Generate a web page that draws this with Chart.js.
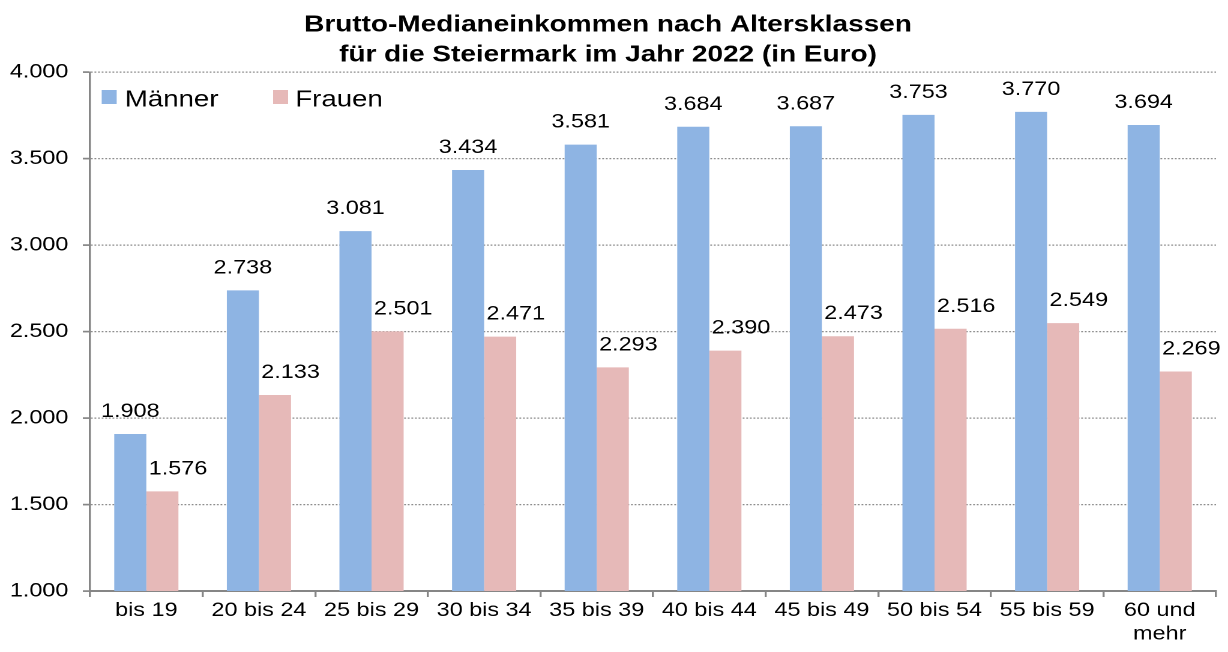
<!DOCTYPE html>
<html>
<head>
<meta charset="utf-8">
<title>Brutto-Medianeinkommen Steiermark 2022</title>
<script src="https://cdn.jsdelivr.net/npm/chart.js@4"></script>
<style>
  html, body { margin: 0; padding: 0; background: #fff; overflow: hidden; }
  /* the original picture is stretched a bit horizontally, so we draw narrower and stretch */
  #wrap { width: 1023px; height: 652px; transform: scaleX(1.2004); transform-origin: 0 0; }
</style>
</head>
<body>
<div id="wrap"><canvas id="myChart"></canvas></div>
<script>
// Data
const categories = ['bis 19', '20 bis 24', '25 bis 29', '30 bis 34', '35 bis 39',
                    '40 bis 44', '45 bis 49', '50 bis 54', '55 bis 59', ['60 und', 'mehr']];
const maenner = [1908, 2738, 3081, 3434, 3581, 3684, 3687, 3753, 3770, 3694];
const frauen  = [1576, 2133, 2501, 2471, 2293, 2390, 2473, 2516, 2549, 2269];
const yMin = 1000;
const yMax = 4000;
const yStep = 500;

const fontFamily = '"Liberation Sans", Arial, sans-serif';
Chart.defaults.font.family = fontFamily;
Chart.defaults.color = '#000';

// German thousands separator: 4000 -> 4.000
function fmt(v) {
    return String(v).replace(/\B(?=(\d{3})+(?!\d))/g, '.');
}

// value labels above the bars
const barLabels = {
    id: 'barLabels',
    afterDatasetsDraw(chart) {
        const ctx = chart.ctx;
        ctx.save();
        ctx.font = '19.5px ' + fontFamily;
        ctx.fillStyle = '#000';
        ctx.textAlign = 'center';
        ctx.textBaseline = 'alphabetic';
        chart.data.datasets.forEach((ds, i) => {
            const shift = i === 1 ? 13 : 0;
            chart.getDatasetMeta(i).data.forEach((bar, j) => {
                ctx.fillText(fmt(ds.data[j]), bar.x + shift, bar.y - 17);
            });
        });
        ctx.restore();
    }
};

// legend sits inside the plot, top left
const legendInside = {
    id: 'legendInside',
    afterDraw(chart) {
        const ctx = chart.ctx;
        const pos = [[84.7, 104], [227.5, 246]];
        ctx.save();
        ctx.font = '23px ' + fontFamily;
        ctx.textBaseline = 'alphabetic';
        chart.data.datasets.forEach((ds, i) => {
            ctx.fillStyle = ds.backgroundColor;
            ctx.fillRect(pos[i][0], 90, 12.5, 14);
            ctx.fillStyle = '#000';
            ctx.fillText(ds.label, pos[i][1], 106.5);
        });
        ctx.restore();
    }
};

const myChart = document.getElementById('myChart');

let barChart = new Chart(myChart, {
    type: 'bar',
    data: {
        labels: categories,
        datasets: [
            {
                label: 'Männer',
                data: maenner,
                backgroundColor: '#8EB4E3',
                categoryPercentage: 0.57,
                barPercentage: 1.0
            },
            {
                label: 'Frauen',
                data: frauen,
                backgroundColor: '#E6B9B8',
                categoryPercentage: 0.57,
                barPercentage: 1.0
            }
        ]
    },
    options: {
        responsive: true,
        maintainAspectRatio: false,
        devicePixelRatio: 2,
        animation: false,
        layout: { padding: { top: 0, right: 10, left: 0, bottom: 0 } },
        plugins: {
            legend: { display: false },
            tooltip: { enabled: false },
            title: {
                display: true,
                text: ['Brutto-Medianeinkommen nach Altersklassen',
                       'für die Steiermark im Jahr 2022 (in Euro)'],
                color: '#000',
                font: { size: 23.3, weight: 'bold', lineHeight: 1.29 },
                padding: { top: 10, bottom: 2 }
            }
        },
        scales: {
            x: {
                grid: {
                    offset: true,
                    drawOnChartArea: false,
                    drawTicks: true,
                    tickLength: 6,
                    color: '#868686',
                    lineWidth: 1.7
                },
                border: { color: '#868686', width: 2 },
                ticks: {
                    color: '#000',
                    font: { size: 19.5, lineHeight: 1.2 },
                    padding: 2,
                    maxRotation: 0,
                    autoSkip: false
                },
                afterFit(scale) { scale.height = 61; }
            },
            y: {
                min: yMin,
                max: yMax,
                ticks: {
                    stepSize: yStep,
                    color: '#000',
                    font: { size: 19.5 },
                    padding: 12,
                    callback: value => fmt(value)
                },
                grid: {
                    color: '#8c8c8c',
                    lineWidth: 1.2,
                    tickLength: 6,
                    tickColor: '#868686',
                    tickWidth: 1.7,
                    tickBorderDash: []
                },
                border: { color: '#868686', width: 1.7, dash: [1.5, 1.5] },
                afterFit(scale) { scale.width = 75; }
            }
        }
    },
    plugins: [barLabels, legendInside]
});
</script>
</body>
</html>
